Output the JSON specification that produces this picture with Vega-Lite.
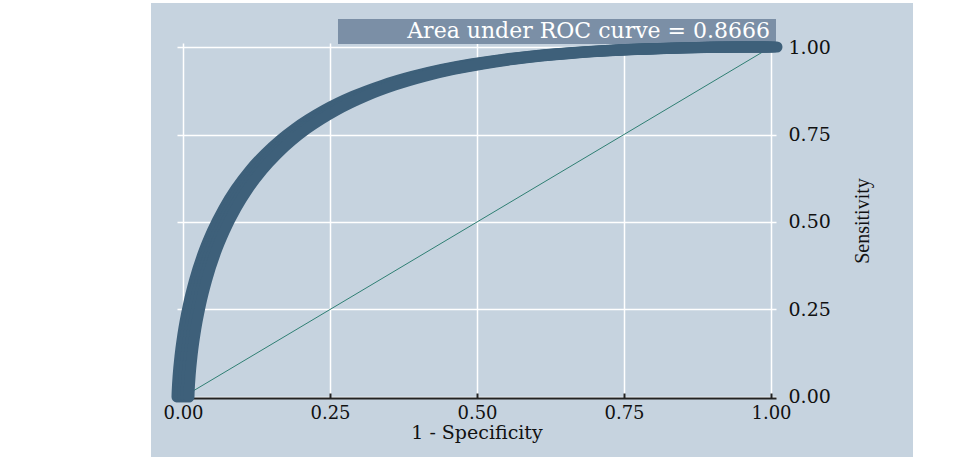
{
  "$schema": "https://vega.github.io/schema/vega-lite/v6.json",
  "width": 599,
  "height": 355,
  "autosize": {"type": "none"},
  "padding": {"left": 177, "top": 43, "right": 204, "bottom": 63},
  "background": "#c6d3df",
  "config": {"view": {"stroke": null}, "font": "DejaVu Serif"},
  "datasets": {
    "roc": [
      {"fpr": 0, "tpr": 0},
      {"fpr": 0.0001, "tpr": 0.0068},
      {"fpr": 0.0005, "tpr": 0.0232},
      {"fpr": 0.002, "tpr": 0.0624},
      {"fpr": 0.005, "tpr": 0.1153},
      {"fpr": 0.01, "tpr": 0.1783},
      {"fpr": 0.02, "tpr": 0.2676},
      {"fpr": 0.03, "tpr": 0.3343},
      {"fpr": 0.045, "tpr": 0.4125},
      {"fpr": 0.06, "tpr": 0.4737},
      {"fpr": 0.08, "tpr": 0.5398},
      {"fpr": 0.1, "tpr": 0.5938},
      {"fpr": 0.125, "tpr": 0.6493},
      {"fpr": 0.15, "tpr": 0.6948},
      {"fpr": 0.175, "tpr": 0.7332},
      {"fpr": 0.2, "tpr": 0.766},
      {"fpr": 0.25, "tpr": 0.8189},
      {"fpr": 0.3, "tpr": 0.8595},
      {"fpr": 0.35, "tpr": 0.8911},
      {"fpr": 0.4, "tpr": 0.916},
      {"fpr": 0.45, "tpr": 0.9358},
      {"fpr": 0.5, "tpr": 0.9515},
      {"fpr": 0.55, "tpr": 0.964},
      {"fpr": 0.6, "tpr": 0.9739},
      {"fpr": 0.65, "tpr": 0.9816},
      {"fpr": 0.7, "tpr": 0.9875},
      {"fpr": 0.75, "tpr": 0.992},
      {"fpr": 0.8, "tpr": 0.9953},
      {"fpr": 0.85, "tpr": 0.9975},
      {"fpr": 0.9, "tpr": 0.999},
      {"fpr": 0.95, "tpr": 0.9998},
      {"fpr": 1, "tpr": 1}
    ],
    "chance": [
      {"fpr": 0, "tpr": 0},
      {"fpr": 1, "tpr": 1}
    ],
    "note": [
      {"label": "Area under ROC curve = 0.8666"}
    ]
  },
  "layer": [
    {
      "data": {"name": "chance"},
      "mark": {"type": "line", "color": "#2f7f73", "strokeWidth": 1},
      "encoding": {
        "x": {
          "field": "fpr",
          "type": "quantitative",
          "scale": {"domain": [-0.0102, 1.0085], "nice": false, "zero": false},
          "axis": {
            "orient": "bottom",
            "values": [0, 0.25, 0.5, 0.75, 1],
            "format": ".2f",
            "grid": true,
            "gridColor": "#ffffff",
            "gridWidth": 1.5,
            "domainColor": "#222222",
            "domainWidth": 2,
            "tickColor": "#222222",
            "tickSize": -5,
            "tickWidth": 2,
            "labelFont": "DejaVu Serif",
            "labelFontSize": 18,
            "labelColor": "#111111",
            "labelPadding": 11,
            "labelFlush": false,
            "labelOverlap": false,
            "title": "1 - Specificity",
            "titleFont": "DejaVu Serif",
            "titleFontSize": 19,
            "titleFontWeight": "normal",
            "titleColor": "#111111",
            "titlePadding": 1
          }
        },
        "y": {
          "field": "tpr",
          "type": "quantitative",
          "scale": {"domain": [-0.00286, 1.01143], "nice": false, "zero": false},
          "axis": {
            "orient": "right",
            "values": [0, 0.25, 0.5, 0.75, 1],
            "format": ".2f",
            "grid": true,
            "gridColor": "#ffffff",
            "gridWidth": 1.5,
            "domain": false,
            "ticks": false,
            "labelFont": "DejaVu Serif",
            "labelFontSize": 19,
            "labelColor": "#111111",
            "labelPadding": 12,
            "labelAlign": "left",
            "labelFlush": false,
            "labelOverlap": false,
            "title": "Sensitivity",
            "titleFont": "Liberation Serif",
            "titleFontSize": 20,
            "titleFontWeight": "normal",
            "titleColor": "#111111",
            "titleAngle": 270,
            "titlePadding": 42
          }
        }
      }
    },
    {
      "data": {"name": "note"},
      "mark": {"type": "rect", "color": "#7b8fa6"},
      "encoding": {
        "x": {"datum": 0.2636},
        "x2": {"datum": 1.0085},
        "y": {"datum": 1.0086},
        "y2": {"datum": 1.08}
      }
    },
    {
      "data": {"name": "roc"},
      "mark": {"type": "line", "color": "#3e607a", "strokeWidth": 11, "strokeCap": "round", "strokeJoin": "round", "interpolate": "monotone", "xOffset": -6},
      "encoding": {"x": {"field": "fpr", "type": "quantitative"}, "y": {"field": "tpr", "type": "quantitative"}}
    },
    {
      "data": {"name": "roc"},
      "mark": {"type": "line", "color": "#3e607a", "strokeWidth": 11, "strokeCap": "round", "strokeJoin": "round", "interpolate": "monotone", "xOffset": -3},
      "encoding": {"x": {"field": "fpr", "type": "quantitative"}, "y": {"field": "tpr", "type": "quantitative"}}
    },
    {
      "data": {"name": "roc"},
      "mark": {"type": "line", "color": "#3e607a", "strokeWidth": 11, "strokeCap": "round", "strokeJoin": "round", "interpolate": "monotone"},
      "encoding": {"x": {"field": "fpr", "type": "quantitative"}, "y": {"field": "tpr", "type": "quantitative"}}
    },
    {
      "data": {"name": "roc"},
      "mark": {"type": "line", "color": "#3e607a", "strokeWidth": 11, "strokeCap": "round", "strokeJoin": "round", "interpolate": "monotone", "xOffset": 3},
      "encoding": {"x": {"field": "fpr", "type": "quantitative"}, "y": {"field": "tpr", "type": "quantitative"}}
    },
    {
      "data": {"name": "roc"},
      "mark": {"type": "line", "color": "#3e607a", "strokeWidth": 11, "strokeCap": "round", "strokeJoin": "round", "interpolate": "monotone", "xOffset": 6},
      "encoding": {"x": {"field": "fpr", "type": "quantitative"}, "y": {"field": "tpr", "type": "quantitative"}}
    },
    {
      "data": {"name": "note"},
      "mark": {"type": "text", "color": "#ffffff", "font": "DejaVu Serif", "fontSize": 22, "align": "right", "baseline": "middle"},
      "encoding": {
        "x": {"datum": 0.9983},
        "y": {"datum": 1.0443},
        "text": {"field": "label"}
      }
    },
    {
      "data": {"values": [{}]},
      "mark": {"type": "rect", "color": "#ffffff"},
      "encoding": {"x": {"datum": -0.4}, "x2": {"datum": -0.0544}, "y": {"datum": -0.4}, "y2": {"datum": 1.4}}
    },
    {
      "data": {"values": [{}]},
      "mark": {"type": "rect", "color": "#ffffff"},
      "encoding": {"x": {"datum": 1.2415}, "x2": {"datum": 1.5}, "y": {"datum": -0.4}, "y2": {"datum": 1.4}}
    },
    {
      "data": {"values": [{}]},
      "mark": {"type": "rect", "color": "#ffffff"},
      "encoding": {"x": {"datum": -0.0544}, "x2": {"datum": 1.2415}, "y": {"datum": 1.1257}, "y2": {"datum": 1.4}}
    },
    {
      "data": {"values": [{}]},
      "mark": {"type": "rect", "color": "#ffffff"},
      "encoding": {"x": {"datum": -0.0544}, "x2": {"datum": 1.2415}, "y": {"datum": -0.4}, "y2": {"datum": -0.1714}}
    }
  ]
}
